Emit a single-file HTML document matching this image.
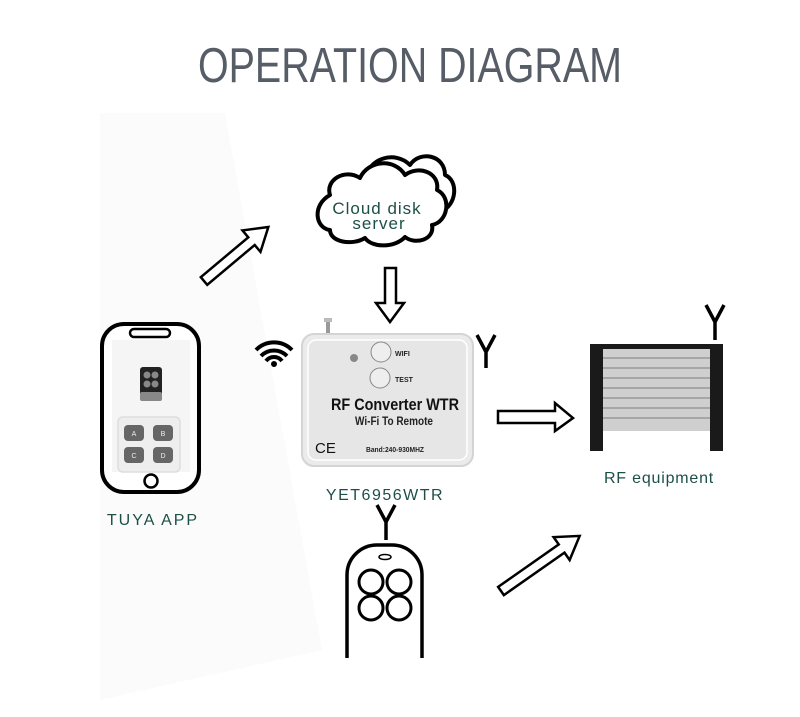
<!DOCTYPE html>
<html><head><meta charset="utf-8"><style>
html,body{margin:0;padding:0;background:#fff;}
svg{display:block;}
text{font-family:"Liberation Sans",sans-serif;}
</style></head><body>
<svg width="800" height="717" viewBox="0 0 800 717" xmlns="http://www.w3.org/2000/svg">
<rect width="800" height="717" fill="#fff"/>
<polygon points="100,113 225,113 322,650 100,700" fill="#fbfbfb"/>
<text x="410" y="82" text-anchor="middle" font-size="49" fill="#565d66" textLength="424" lengthAdjust="spacingAndGlyphs">OPERATION DIAGRAM</text>

<!-- cloud -->
<g fill="#fff" stroke="#000" stroke-width="4" stroke-linejoin="round">
<path d="M365,180 C368,158 395,150 410,165 C420,150 445,155 445,175 C458,180 458,205 440,212 L380,212 Z"/>
<path d="M330,195 C325,180 345,168 360,178 C368,160 395,158 405,175 C418,165 440,172 437,190 C452,197 448,222 432,225 C435,240 415,245 405,237 C395,248 372,248 365,238 C352,246 330,242 330,230 C315,228 312,205 330,195 Z"/>
</g>
<text x="377" y="214" text-anchor="middle" font-size="17" fill="#1d4f48" letter-spacing="1">Cloud disk</text>
<text x="379" y="229" text-anchor="middle" font-size="17" fill="#1d4f48" letter-spacing="1">server</text>

<!-- arrows -->
<g fill="#fff" stroke="#000" stroke-width="2.5" stroke-linejoin="miter">
<path d="M0,-5 L62,-5 L62,-14 L84,0 L62,14 L62,5 L0,5 Z" transform="translate(204,281) rotate(-40)"/>
<path d="M385,268 L396,268 L396,303 L404,303 L390,322 L376,303 L385,303 Z"/>
<path d="M498,411 L555,411 L555,403 L573,418 L555,431 L555,423 L498,423 Z"/>
<path d="M0,-5 L74,-5 L74,-14 L96,0 L74,14 L74,5 L0,5 Z" transform="translate(501,591) rotate(-35)"/>
</g>

<!-- wifi -->
<g fill="none" stroke="#000" stroke-width="4" stroke-linecap="butt">
<path d="M256,350 A25,25 0 0 1 292,350"/>
<path d="M261,356 A18,18 0 0 1 287,356"/>
<path d="M266,361 A10,10 0 0 1 282,361"/>
</g>
<circle cx="274" cy="364" r="3" fill="#000"/>

<!-- converter -->
<rect x="326" y="318" width="4" height="16" fill="#999"/>
<rect x="324" y="318" width="8" height="4" fill="#bbb"/>
<rect x="302" y="334" width="171" height="132" rx="12" fill="#ebebeb" stroke="#d4d4d4" stroke-width="2"/>
<rect x="308" y="340" width="159" height="120" rx="8" fill="#e6e6e6" stroke="#fff" stroke-width="1.5"/>
<circle cx="354" cy="358" r="4" fill="#888"/>
<circle cx="381" cy="352" r="10" fill="#eee" stroke="#888" stroke-width="1"/>
<circle cx="380" cy="378" r="10" fill="#eee" stroke="#888" stroke-width="1"/>
<text x="395" y="356" font-size="7" font-weight="bold" fill="#222">WIFI</text>
<text x="395" y="382" font-size="7" font-weight="bold" fill="#222">TEST</text>
<text x="395" y="410" text-anchor="middle" font-size="17" font-weight="bold" fill="#111" textLength="128" lengthAdjust="spacingAndGlyphs">RF Converter  WTR</text>
<text x="394" y="425" text-anchor="middle" font-size="12" font-weight="bold" fill="#222" textLength="78" lengthAdjust="spacingAndGlyphs">Wi-Fi To Remote</text>
<text x="315" y="453" font-size="15" fill="#111">CE</text>
<text x="366" y="452" font-size="7" font-weight="bold" fill="#222" textLength="58" lengthAdjust="spacingAndGlyphs">Band:240-930MHZ</text>
<text x="385" y="500" text-anchor="middle" font-size="16" fill="#1d4f48" letter-spacing="1.5">YET6956WTR</text>

<!-- antennas -->
<g fill="none" stroke="#000" stroke-width="3.5">
<path d="M477,335 L486,352 L495,335 M486,352 L486,368"/>
<path d="M706,305 L715,322 L724,305 M715,322 L715,340"/>
<path d="M377,505 L386,522 L395,505 M386,522 L386,540"/>
</g>

<!-- shutter -->
<rect x="590" y="344" width="133" height="5" fill="#1a1a1a"/>
<rect x="603" y="349" width="107" height="82" fill="#cfcfcf"/>
<g stroke="#999" stroke-width="1.5">
<line x1="603" y1="358" x2="710" y2="358"/><line x1="603" y1="368" x2="710" y2="368"/>
<line x1="603" y1="378" x2="710" y2="378"/><line x1="603" y1="388" x2="710" y2="388"/>
<line x1="603" y1="398" x2="710" y2="398"/><line x1="603" y1="408" x2="710" y2="408"/>
<line x1="603" y1="418" x2="710" y2="418"/>
</g>
<rect x="590" y="344" width="13" height="107" fill="#1a1a1a"/>
<rect x="710" y="344" width="13" height="107" fill="#1a1a1a"/>
<text x="659" y="483" text-anchor="middle" font-size="16" fill="#1d4f48" letter-spacing="0.8">RF equipment</text>

<!-- remote -->
<path d="M347,658 L347,575 A30,30 0 0 1 377,545 L392,545 A30,30 0 0 1 422,575 L422,658" fill="#fff" stroke="#000" stroke-width="3.5"/>
<ellipse cx="385" cy="557" rx="6" ry="2.5" fill="none" stroke="#000" stroke-width="1.5"/>
<g fill="none" stroke="#000" stroke-width="3">
<circle cx="371" cy="582" r="12"/><circle cx="399" cy="582" r="12"/>
<circle cx="371" cy="608" r="12"/><circle cx="399" cy="608" r="12"/>
</g>

<!-- phone -->
<rect x="102" y="324" width="97" height="168" rx="22" fill="#fff" stroke="#000" stroke-width="4"/>
<rect x="130" y="329" width="40" height="8" rx="4" fill="#fff" stroke="#000" stroke-width="2.5"/>
<rect x="112" y="340" width="78" height="132" fill="#f5f5f5"/>
<rect x="140" y="367" width="22" height="34" rx="3" fill="#222"/>
<rect x="140" y="392" width="22" height="9" rx="2" fill="#888"/>
<circle cx="147" cy="375" r="3.5" fill="#888"/><circle cx="155" cy="375" r="3.5" fill="#888"/>
<circle cx="147" cy="384" r="3.5" fill="#888"/><circle cx="155" cy="384" r="3.5" fill="#888"/>
<rect x="118" y="417" width="62" height="55" rx="5" fill="#eee" stroke="#ddd" stroke-width="1.5"/>
<g fill="#666">
<rect x="124" y="425" width="20" height="16" rx="4"/><rect x="153" y="425" width="20" height="16" rx="4"/>
<rect x="124" y="447" width="20" height="16" rx="4"/><rect x="153" y="447" width="20" height="16" rx="4"/>
</g>
<g font-size="7" fill="#eee" text-anchor="middle">
<text x="134" y="436">A</text><text x="163" y="436">B</text><text x="134" y="458">C</text><text x="163" y="458">D</text>
</g>
<circle cx="151" cy="481" r="6.5" fill="#fff" stroke="#000" stroke-width="2.5"/>
<text x="153" y="525" text-anchor="middle" font-size="16" fill="#1d4f48" letter-spacing="2">TUYA  APP</text>
</svg>
</body></html>
